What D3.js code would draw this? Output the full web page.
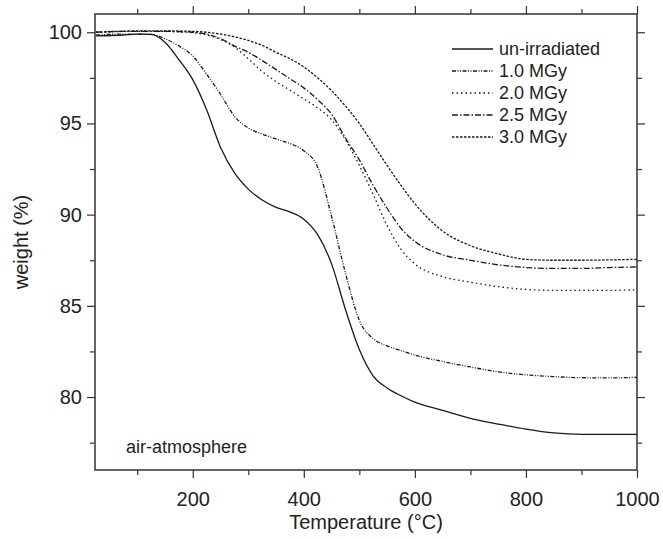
<!DOCTYPE html>
<html>
<head>
<meta charset="utf-8">
<script src="https://cdn.jsdelivr.net/npm/d3@7"></script>
<style>
  body { margin: 0; background: #fff; }
  text { font-family: "Liberation Sans", Arial, sans-serif; fill: #222; }
</style>
</head>
<body>
<div id="chart"></div>
<script>
// temperatures (°C) shared by all curves
const temps = [26, 75, 100, 125, 150, 175, 200, 225, 250, 275, 300, 325, 350, 375, 400, 425, 450, 475, 500, 525, 550, 575, 600, 650, 700, 750, 800, 850, 900, 950, 1000];

const unIrradiated = [99.8, 99.85, 99.9, 99.88, 99.45, 98.5, 97.4, 95.75, 93.7, 92.3, 91.4, 90.8, 90.4, 90.15, 89.75, 88.9, 87.3, 84.8, 82.6, 81.15, 80.5, 80.07, 79.72, 79.27, 78.83, 78.52, 78.24, 78.03, 77.95, 77.95, 77.95];
const mgy10 = [99.85, 99.9, 99.9, 99.88, 99.65, 99.25, 98.7, 97.7, 96.6, 95.4, 94.75, 94.42, 94.15, 93.9, 93.5, 92.6, 89.9, 86.8, 84.2, 83.2, 82.8, 82.55, 82.3, 81.95, 81.65, 81.38, 81.22, 81.12, 81.06, 81.05, 81.08];
const mgy20 = [100.0, 100.05, 100.05, 100.05, 100.05, 100.02, 99.98, 99.85, 99.6, 99.2, 98.55, 97.85, 97.3, 96.82, 96.35, 95.85, 95.2, 94.1, 92.7, 91.1, 89.4, 88.1, 87.3, 86.6, 86.3, 86.05, 85.9, 85.85, 85.85, 85.85, 85.88];
const mgy25 = [100.0, 100.05, 100.05, 100.05, 100.05, 100.03, 100.0, 99.9, 99.65, 99.25, 98.9, 98.45, 97.95, 97.45, 96.95, 96.3, 95.5, 94.2, 93.0, 91.6, 90.35, 89.25, 88.53, 87.8, 87.5, 87.25, 87.1, 87.05, 87.05, 87.1, 87.13];
const mgy30 = [100.0, 100.05, 100.08, 100.08, 100.08, 100.07, 100.05, 100.0, 99.9, 99.75, 99.55, 99.28, 98.9, 98.55, 98.1, 97.5, 96.8, 95.95, 95.0, 93.85, 92.7, 91.6, 90.6, 89.1, 88.3, 87.85, 87.55, 87.5, 87.5, 87.52, 87.55];

const seriesNames = ["un-irradiated", "1.0 MGy", "2.0 MGy", "2.5 MGy", "3.0 MGy"];
const seriesValues = [unIrradiated, mgy10, mgy20, mgy25, mgy30];
const dashes = [null, "4,1.5,1,1.5,1,1.5", "1.5,3", "6,2,1.5,2", "2.5,1.5"];

const xTicks = [200, 400, 600, 800, 1000];
const xMinor = [100, 300, 500, 700, 900];
const yTicks = [80, 85, 90, 95, 100];
const yMinor = [77.5, 82.5, 87.5, 92.5, 97.5];

const W = 663, H = 539;
const margin = {top: 14, right: 26, bottom: 69, left: 95};
const width = W - margin.left - margin.right;
const height = H - margin.top - margin.bottom;

const svg = d3.select("#chart").append("svg")
  .attr("width", W).attr("height", H);
const g = svg.append("g")
  .attr("transform", "translate(" + margin.left + "," + margin.top + ")");

const x = d3.scaleLinear().domain([24, 1000]).range([0, width]);
const y = d3.scaleLinear().domain([76, 101]).range([height, 0]);

g.append("clipPath").attr("id", "clip")
  .append("rect").attr("width", width).attr("height", height);

// axes: labelled bottom/left, mirrored ticks on top/right
function addAxis(axis, major, minor, transform, labels) {
  const a = g.append("g").attr("transform", transform);
  a.call(axis.tickValues(major).tickSize(8).tickFormat(labels ? d3.format("d") : ""));
  a.call(ax => ax.select(".domain").remove());
  const m = g.append("g").attr("transform", transform);
  m.call(axis.tickValues(minor).tickSize(5).tickFormat(""));
  m.select(".domain").remove();
  return a;
}
const xb = addAxis(d3.axisBottom(x), xTicks, xMinor, "translate(0," + height + ")", true);
addAxis(d3.axisTop(x), xTicks, xMinor, "translate(0,0)", false);
const yl = addAxis(d3.axisLeft(y), yTicks, yMinor, "translate(0,0)", true);
addAxis(d3.axisRight(y), yTicks, yMinor, "translate(" + width + ",0)", false);

g.selectAll(".tick line").attr("stroke", "#333").attr("stroke-width", 1.2);
xb.selectAll("text").attr("font-size", 20).attr("dy", "1.25em").attr("fill", "#222")
  .style("font-family", "Liberation Sans, Arial, sans-serif");
yl.selectAll("text").attr("font-size", 20).attr("dx", "-0.1em").attr("fill", "#222")
  .style("font-family", "Liberation Sans, Arial, sans-serif");

g.append("rect").attr("width", width).attr("height", height)
  .attr("fill", "none").attr("stroke", "#333").attr("stroke-width", 1.5);

// curves
const line = d3.line()
  .x((d, i) => x(temps[i]))
  .y(d => y(d))
  .curve(d3.curveMonotoneX);

g.append("g").attr("clip-path", "url(#clip)")
  .selectAll("path")
  .data(seriesValues)
  .join("path")
    .attr("d", line)
    .attr("fill", "none")
    .attr("stroke", "#1a1a1a")
    .attr("stroke-width", 1.3)
    .attr("stroke-dasharray", (d, i) => dashes[i]);

// legend
const legend = svg.append("g").attr("transform", "translate(452,49)");
seriesNames.forEach((name, i) => {
  const row = legend.append("g").attr("transform", "translate(0," + (i * 22) + ")");
  row.append("line").attr("x1", 0).attr("x2", 41).attr("y1", 0).attr("y2", 0)
    .attr("stroke", "#1a1a1a").attr("stroke-width", 1.3)
    .attr("stroke-dasharray", dashes[i]);
  row.append("text").attr("x", 47).attr("y", 0).attr("dy", "0.35em")
    .attr("font-size", 18).text(name);
});

svg.append("text").attr("x", 126).attr("y", 453)
  .attr("font-size", 18).text("air-atmosphere");

svg.append("text").attr("x", 366).attr("y", 529)
  .attr("text-anchor", "middle").attr("font-size", 20)
  .text("Temperature (°C)");

svg.append("text")
  .attr("transform", "translate(28,242) rotate(-90)")
  .attr("text-anchor", "middle").attr("font-size", 20)
  .text("weight (%)");
</script>
</body>
</html>
